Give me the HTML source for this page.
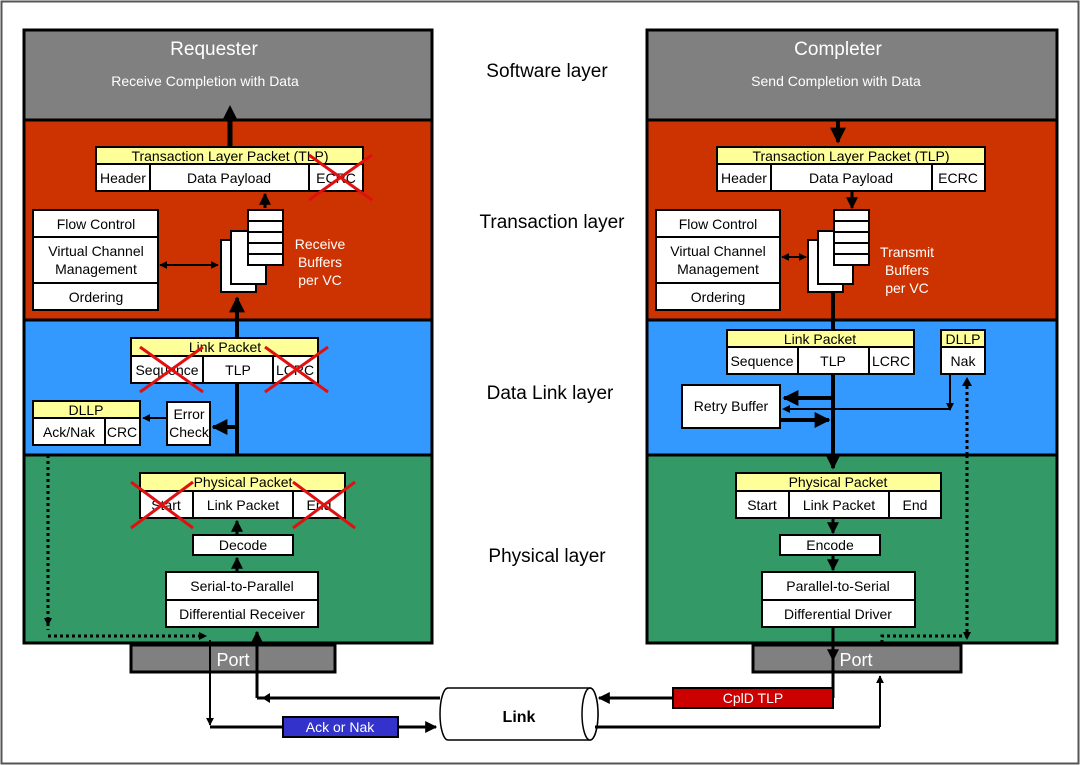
<!DOCTYPE html>
<html><head><meta charset="utf-8"><style>
body{margin:0;background:#fff}
svg{display:block;font-family:"Liberation Sans",sans-serif}
.w{fill:#fff;stroke:#000;stroke-width:2}
.y{fill:#ffff99;stroke:#000;stroke-width:2}
.t{font-size:14px;text-anchor:middle;fill:#000}
.x{stroke:#e01010;stroke-width:3}
.L{stroke:#000;stroke-width:3;fill:none}
.D{stroke:#000;stroke-width:3;fill:none;stroke-dasharray:3 3}
.ly{font-size:19px;text-anchor:middle}
</style></head><body>
<svg width="1080" height="765" viewBox="0 0 1080 765">
<defs>
<marker id="a" viewBox="0 0 10 10" refX="9" refY="5" markerWidth="4" markerHeight="4" orient="auto-start-reverse"><path d="M0,0L10,5L0,10z"/></marker>
</defs>
<rect x="1.5" y="1.5" width="1077" height="762" fill="#fff" stroke="#555" stroke-width="2"/>
<g stroke="#000" stroke-width="3">
<rect x="24" y="30" width="408" height="90" fill="#808080"/>
<rect x="24" y="120" width="408" height="200" fill="#cc3300"/>
<rect x="24" y="320" width="408" height="135" fill="#3399ff"/>
<rect x="24" y="455" width="408" height="188" fill="#339966"/>
<rect x="131" y="645" width="204" height="27" fill="#808080"/>
<rect x="647" y="30" width="410" height="90" fill="#808080"/>
<rect x="647" y="120" width="410" height="200" fill="#cc3300"/>
<rect x="647" y="320" width="410" height="135" fill="#3399ff"/>
<rect x="647" y="455" width="410" height="188" fill="#339966"/>
<rect x="753" y="645" width="208" height="27" fill="#808080"/>
</g>
<text x="214" y="55" font-size="19" fill="#fff" text-anchor="middle">Requester</text>
<text x="205" y="86" font-size="14" fill="#fff" text-anchor="middle">Receive Completion with Data</text>
<text x="838" y="55" font-size="19" fill="#fff" text-anchor="middle">Completer</text>
<text x="836" y="86" font-size="14" fill="#fff" text-anchor="middle">Send Completion with Data</text>
<text x="233" y="666" font-size="18" fill="#fff" text-anchor="middle">Port</text>
<text x="856" y="666" font-size="18" fill="#fff" text-anchor="middle">Port</text>
<text x="547" y="77" class="ly">Software layer</text>
<text x="552" y="228" class="ly">Transaction layer</text>
<text x="550" y="399" class="ly">Data Link layer</text>
<text x="547" y="562" class="ly">Physical layer</text>

<line x1="230" y1="147" x2="230" y2="118" stroke="#000" stroke-width="5"/>
<path d="M230 105l-8 16h16z"/>
<rect class="y" x="96" y="147" width="267" height="17"/>
<text class="t" x="230" y="161">Transaction Layer Packet (TLP)</text>
<rect class="w" x="96" y="164" width="54" height="27"/><text class="t" x="123" y="183">Header</text>
<rect class="w" x="150" y="164" width="159" height="27"/><text class="t" x="229" y="183">Data Payload</text>
<rect class="w" x="309" y="164" width="54" height="27"/><text class="t" x="336" y="183">ECRC</text>
<line class="x" x1="309" y1="200" x2="372" y2="155"/><line class="x" x1="309" y1="155" x2="372" y2="200"/>
<rect class="w" x="33" y="210" width="125" height="27"/><text class="t" x="96" y="229">Flow Control</text>
<rect class="w" x="33" y="237" width="125" height="46"/><text class="t" x="96" y="256">Virtual Channel</text><text class="t" x="96" y="274">Management</text>
<rect class="w" x="33" y="283" width="125" height="27"/><text class="t" x="96" y="302">Ordering</text>
<line x1="160" y1="265" x2="218" y2="265" stroke="#000" stroke-width="2" marker-start="url(#a)" marker-end="url(#a)"/>
<rect class="w" x="221" y="240" width="35" height="52"/>
<rect class="w" x="231" y="231" width="35" height="53"/>
<rect class="w" x="248" y="210" width="35" height="55"/>
<g stroke="#000" stroke-width="2"><line x1="248" y1="221" x2="283" y2="221"/><line x1="248" y1="232" x2="283" y2="232"/><line x1="248" y1="243" x2="283" y2="243"/><line x1="248" y1="254" x2="283" y2="254"/></g>
<line x1="265" y1="208" x2="265" y2="194" stroke="#000" stroke-width="3" marker-end="url(#a)"/>
<text x="320" y="249" font-size="14" fill="#fff" text-anchor="middle">Receive</text>
<text x="320" y="267" font-size="14" fill="#fff" text-anchor="middle">Buffers</text>
<text x="320" y="285" font-size="14" fill="#fff" text-anchor="middle">per VC</text>
<line x1="237" y1="455" x2="237" y2="298" stroke="#000" stroke-width="4" marker-end="url(#a)"/>
<rect class="y" x="131" y="338" width="187" height="18"/><text class="t" x="225" y="352">Link Packet</text>
<rect class="w" x="131" y="356" width="72" height="27"/><text class="t" x="167" y="375">Sequence</text>
<rect class="w" x="203" y="356" width="70" height="27"/><text class="t" x="238" y="375">TLP</text>
<rect class="w" x="273" y="356" width="45" height="27"/><text class="t" x="295" y="375">LCRC</text>
<line class="x" x1="140" y1="347" x2="203" y2="392"/><line class="x" x1="140" y1="392" x2="203" y2="347"/>
<line class="x" x1="265" y1="347" x2="328" y2="392"/><line class="x" x1="265" y1="392" x2="328" y2="347"/>
<rect class="y" x="33" y="401" width="107" height="17"/><text class="t" x="86" y="415">DLLP</text>
<rect class="w" x="33" y="418" width="72" height="27"/><text class="t" x="69" y="437">Ack/Nak</text>
<rect class="w" x="105" y="418" width="35" height="27"/><text class="t" x="122" y="437">CRC</text>
<rect class="w" x="167" y="402" width="43" height="43"/><text class="t" x="189" y="419">Error</text><text class="t" x="189" y="437">Check</text>
<line x1="237" y1="427" x2="213" y2="427" stroke="#000" stroke-width="4" marker-end="url(#a)"/>
<line x1="167" y1="418" x2="143" y2="418" stroke="#000" stroke-width="2" marker-end="url(#a)"/>
<rect class="y" x="140" y="473" width="205" height="18"/><text class="t" x="243" y="487">Physical Packet</text>
<rect class="w" x="140" y="491" width="53" height="27"/><text class="t" x="166" y="510">Start</text>
<rect class="w" x="193" y="491" width="100" height="27"/><text class="t" x="243" y="510">Link Packet</text>
<rect class="w" x="293" y="491" width="52" height="27"/><text class="t" x="319" y="510">End</text>
<line class="x" x1="131" y1="482" x2="193" y2="528"/><line class="x" x1="131" y1="528" x2="193" y2="482"/>
<line class="x" x1="293" y1="482" x2="355" y2="528"/><line class="x" x1="293" y1="528" x2="355" y2="482"/>
<rect class="w" x="193" y="535" width="100" height="20"/><text class="t" x="243" y="550">Decode</text>
<line x1="237" y1="535" x2="237" y2="521" stroke="#000" stroke-width="3" marker-end="url(#a)"/>
<line x1="237" y1="572" x2="237" y2="558" stroke="#000" stroke-width="3" marker-end="url(#a)"/>
<rect class="w" x="166" y="572" width="152" height="28"/><text class="t" x="242" y="591">Serial-to-Parallel</text>
<rect class="w" x="166" y="600" width="152" height="27"/><text class="t" x="242" y="619">Differential Receiver</text>
<path class="D" d="M48 455V630"/>
<path d="M48 626l-4 -8h8z"/>
<path class="D" d="M48 636H200"/>
<path d="M207 636l-8 -4v8z"/>
<line x1="257" y1="698" x2="257" y2="632" stroke="#000" stroke-width="3" marker-end="url(#a)"/>
<line x1="440" y1="698" x2="257" y2="698" class="L"/>
<path d="M262 698l8-5v10z"/>
<line x1="210" y1="640" x2="210" y2="725" stroke="#000" stroke-width="2" marker-end="url(#a)"/>
<line x1="210" y1="727" x2="436" y2="727" stroke="#000" stroke-width="3" marker-end="url(#a)"/>
<rect x="283" y="717" width="115" height="20" fill="#3333cc" stroke="#000" stroke-width="2"/>
<text x="340" y="732" font-size="14" fill="#fff" text-anchor="middle">Ack or Nak</text>
<path d="M448 688H590A8 26 0 0 1 590 740H448A8 26 0 0 1 448 688Z" fill="#fff" stroke="#000" stroke-width="1.5"/>
<ellipse cx="590" cy="714" rx="8" ry="26" fill="#fff" stroke="#000" stroke-width="1.5"/>
<text x="519" y="722" font-size="16" font-weight="bold" text-anchor="middle">Link</text>

<line x1="838" y1="120" x2="838" y2="142" stroke="#000" stroke-width="4" marker-end="url(#a)"/>
<rect class="y" x="717" y="147" width="268" height="17"/><text class="t" x="851" y="161">Transaction Layer Packet (TLP)</text>
<rect class="w" x="717" y="164" width="54" height="27"/><text class="t" x="744" y="183">Header</text>
<rect class="w" x="771" y="164" width="161" height="27"/><text class="t" x="851" y="183">Data Payload</text>
<rect class="w" x="932" y="164" width="53" height="27"/><text class="t" x="958" y="183">ECRC</text>
<line x1="852" y1="191" x2="852" y2="208" stroke="#000" stroke-width="3" marker-end="url(#a)"/>
<rect class="w" x="656" y="210" width="124" height="27"/><text class="t" x="718" y="229">Flow Control</text>
<rect class="w" x="656" y="237" width="124" height="46"/><text class="t" x="718" y="256">Virtual Channel</text><text class="t" x="718" y="274">Management</text>
<rect class="w" x="656" y="283" width="124" height="27"/><text class="t" x="718" y="302">Ordering</text>
<line x1="782" y1="257" x2="806" y2="257" stroke="#000" stroke-width="2" marker-start="url(#a)" marker-end="url(#a)"/>
<rect class="w" x="808" y="240" width="35" height="52"/>
<rect class="w" x="818" y="231" width="35" height="53"/>
<rect class="w" x="834" y="210" width="35" height="55"/>
<g stroke="#000" stroke-width="2"><line x1="834" y1="221" x2="869" y2="221"/><line x1="834" y1="232" x2="869" y2="232"/><line x1="834" y1="243" x2="869" y2="243"/><line x1="834" y1="254" x2="869" y2="254"/></g>
<text x="907" y="257" font-size="14" fill="#fff" text-anchor="middle">Transmit</text>
<text x="907" y="275" font-size="14" fill="#fff" text-anchor="middle">Buffers</text>
<text x="907" y="293" font-size="14" fill="#fff" text-anchor="middle">per VC</text>
<line x1="833" y1="292" x2="833" y2="468" stroke="#000" stroke-width="4" marker-end="url(#a)"/>
<rect class="y" x="727" y="330" width="187" height="17"/><text class="t" x="820" y="344">Link Packet</text>
<rect class="w" x="727" y="347" width="71" height="27"/><text class="t" x="762" y="366">Sequence</text>
<rect class="w" x="798" y="347" width="71" height="27"/><text class="t" x="833" y="366">TLP</text>
<rect class="w" x="869" y="347" width="45" height="27"/><text class="t" x="891" y="366">LCRC</text>
<rect class="y" x="941" y="330" width="44" height="17"/><text class="t" x="963" y="344">DLLP</text>
<rect class="w" x="941" y="347" width="44" height="27"/><text class="t" x="963" y="366">Nak</text>
<rect class="w" x="682" y="385" width="98" height="43"/><text class="t" x="731" y="411">Retry Buffer</text>
<line x1="833" y1="398" x2="784" y2="398" stroke="#000" stroke-width="4" marker-end="url(#a)"/>
<path d="M950 374V409H784" fill="none" stroke="#000" stroke-width="2"/>
<path d="M950 411l-4-8h8z"/><path d="M782 409l8-4v8z"/>
<line x1="780" y1="420" x2="829" y2="420" stroke="#000" stroke-width="4" marker-end="url(#a)"/>
<path class="D" d="M967 455V385"/><path d="M967 377l-5 9h10z"/>
<rect class="y" x="736" y="473" width="205" height="18"/><text class="t" x="838" y="487">Physical Packet</text>
<rect class="w" x="736" y="491" width="53" height="27"/><text class="t" x="762" y="510">Start</text>
<rect class="w" x="789" y="491" width="100" height="27"/><text class="t" x="839" y="510">Link Packet</text>
<rect class="w" x="889" y="491" width="52" height="27"/><text class="t" x="915" y="510">End</text>
<line x1="833" y1="518" x2="833" y2="533" stroke="#000" stroke-width="3" marker-end="url(#a)"/>
<rect class="w" x="780" y="535" width="100" height="20"/><text class="t" x="830" y="550">Encode</text>
<line x1="833" y1="555" x2="833" y2="570" stroke="#000" stroke-width="3" marker-end="url(#a)"/>
<rect class="w" x="762" y="572" width="153" height="28"/><text class="t" x="838" y="591">Parallel-to-Serial</text>
<rect class="w" x="762" y="600" width="153" height="27"/><text class="t" x="838" y="619">Differential Driver</text>
<line x1="833" y1="627" x2="833" y2="660" stroke="#000" stroke-width="3" marker-end="url(#a)"/>
<path class="D" d="M967 455V636H882V645"/>
<path d="M967 640l-4-8h8z"/>
<line x1="833" y1="660" x2="833" y2="698" class="L"/>
<line x1="833" y1="698" x2="599" y2="698" stroke="#000" stroke-width="3" marker-end="url(#a)"/>
<rect x="673" y="688" width="160" height="20" fill="#cc0000" stroke="#000" stroke-width="2"/>
<text x="753" y="703" font-size="14" fill="#fff" text-anchor="middle">CplD TLP</text>
<line x1="595" y1="727" x2="880" y2="727" class="L"/>
<line x1="880" y1="727" x2="880" y2="676" stroke="#000" stroke-width="2" marker-end="url(#a)"/>
</svg>
</body></html>
